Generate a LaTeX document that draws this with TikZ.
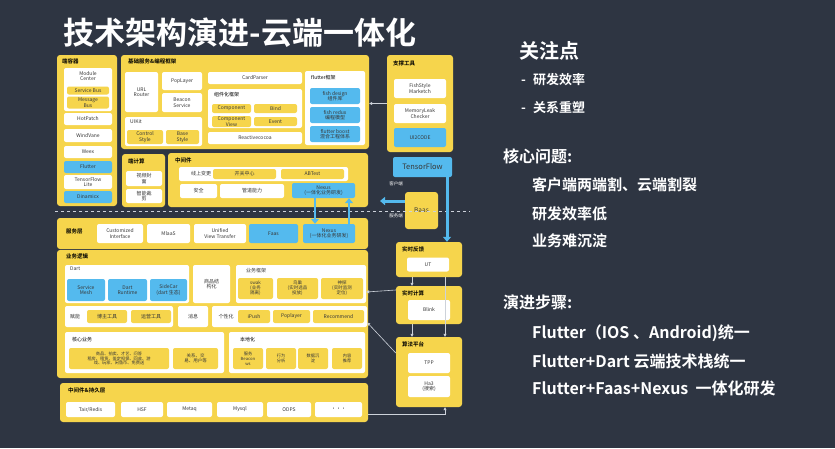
\documentclass[tikz,border=0pt]{standalone}
\usepackage{fontspec}
\setmainfont{Noto Sans CJK SC}[BoldFont={Noto Sans CJK SC Bold}]
\usetikzlibrary{arrows.meta}

\definecolor{bg}{RGB}{46,53,66}
\definecolor{ylw}{RGB}{246,213,76}
\definecolor{blu}{RGB}{84,186,238}
\definecolor{txt}{RGB}{55,55,55}
\definecolor{lnkc}{RGB}{205,210,218}

\begin{document}
\begin{tikzpicture}[x=1pt, y=-1pt,
    panel/.style={fill=ylw, rounded corners=3pt, inner sep=0pt},
    wbox/.style={fill=white, rounded corners=2pt, inner sep=0pt, align=center,
        font=\fontsize{5}{5.6}\selectfont, text=txt},
    ybox/.style={wbox, fill=ylw},
    bbox/.style={wbox, fill=blu},
    hdr/.style={anchor=north west, inner sep=0pt, font=\fontsize{5.5}{6}\selectfont\bfseries, text=black},
    lbl/.style={inner sep=0pt, font=\fontsize{5}{6}\selectfont, text=txt},
    sz/.style 2 args={minimum width=#1pt, minimum height=#2pt},
    fat/.style={blu, line width=3pt, -{Triangle[width=8pt,length=5pt]}},
    lnk/.style={draw=lnkc, line width=0.6pt, -{Triangle[width=3pt,length=3pt]}},
    side/.style={anchor=west, inner sep=0pt, text=white, font=\fontsize{15}{18}\selectfont\bfseries},
]
    % Hintergrund
    \fill[bg] (0,0) rectangle (835,448);
    \useasboundingbox (0,0) rectangle (835,448);

    % Titel
    \node[inner sep=0pt, text=white, font=\fontsize{31}{33}\selectfont\bfseries] (title) at (240,33) {技术架构演进-云端一体化};

    % --- 端容器 ---
    \node[panel, sz={60}{151}] (cont) at (87,130.5) {};
    \node[hdr] (conth) at (62,59) {端容器};
    \node[wbox, sz={48}{43}] (modc) at (88,89.5) {};
    \node[lbl] (modct) at (88,77) {\begin{tabular}{@{}c@{}}Module\\[-1pt]Center\end{tabular}};
    \node[ybox, sz={42}{8}] (sbus) at (88,90.5) {Service Bus};
    \node[ybox, sz={42}{12}] (mbus) at (88,102.5) {Message\\Bus};
    \node[wbox, sz={48}{12}] (hotp) at (88,119) {HotPatch};
    \node[wbox, sz={48}{13}] (windv) at (88,135.5) {WindVane};
    \node[wbox, sz={48}{12}] (weex) at (88,152) {Weex};
    \node[bbox, sz={48}{12}] (flut) at (88,167) {Flutter};
    \node[wbox, sz={48}{14}] (tfl) at (88,182) {TensorFlow\\Lite};
    \node[bbox, sz={48}{12}] (dina) at (88,197) {Dinamicx};

    % --- 基础服务&编程框架 ---
    \node[panel, sz={248}{94}] (base) at (245,102) {};
    \node[hdr] (baseh) at (128,59) {基础服务\&编程框架};
    \node[wbox, sz={33}{40}] (urlr) at (141.5,92) {URL\\Router};
    \node[wbox, sz={40}{18}] (popl) at (182,81) {PopLayer};
    \node[wbox, sz={40}{19}] (beac) at (182,102.5) {Beacon\\Service};
    \node[wbox, sz={77}{29}] (uikit) at (163.5,131.5) {};
    \node[lbl, anchor=north west] (uikitt) at (130,119) {UIKit};
    \node[ybox, sz={36}{14}] (ctrl) at (145,137) {Control\\Style};
    \node[ybox, sz={33}{14}] (bsty) at (182.5,137) {Base\\Style};
    \node[wbox, sz={94}{12}] (cardp) at (255,78) {CardParser};
    \node[wbox, sz={94}{39}] (comp) at (255,108.5) {};
    \node[hdr, font=\fontsize{5}{6}\selectfont] (comph) at (214,92) {组件化框架};
    \node[ybox, sz={39}{9}] (compo) at (231.5,108.5) {Component};
    \node[ybox, sz={43}{9}] (bind) at (275.5,108.5) {Bind};
    \node[ybox, sz={39}{11}] (compv) at (231.5,121.5) {Component\\View};
    \node[ybox, sz={43}{9}] (event) at (275.5,121.5) {Event};
    \node[wbox, sz={94}{12}] (react) at (255,138) {Reactivecocoa};
    \node[wbox, sz={60}{74}] (flfw) at (335,108) {};
    \node[hdr, font=\fontsize{5}{6}\selectfont] (flfwh) at (311,75) {flutter框架};
    \node[bbox, sz={50}{16}] (fdes) at (335,96) {fish design\\组件库};
    \node[bbox, sz={50}{16}] (fred) at (335,115) {fish redux\\编程模型};
    \node[bbox, sz={50}{16}] (fboo) at (335,134) {flutter boost\\混合工程体系};

    % --- 支撑工具 ---
    \node[panel, sz={66}{97}] (tools) at (420,103.5) {};
    \node[hdr] (toolsh) at (393,61) {支撑工具};
    \node[wbox, sz={52}{19}] (fsty) at (420,88.5) {FishStyle\\Marketch};
    \node[wbox, sz={52}{19}] (meml) at (420,113.5) {MemoryLeak\\Checker};
    \node[bbox, sz={52}{19}] (ui2c) at (420,137.5) {UI2CODE};
    \draw[lnk] (tools.west) -- (tools.west -| base.east);

    % --- TensorFlow, Baas ---
    \node[bbox, sz={59}{20}, font=\fontsize{7.5}{8}\selectfont] (tf) at (422.5,167) {TensorFlow};
    \node[panel, sz={33}{37}, font=\fontsize{6.5}{7}\selectfont, text=txt] (baas) at (421.5,210.5) {Baas};
    \node[lbl, text=white, font=\fontsize{4.5}{5}\selectfont] (clnt) at (396,184) {客户端};
    \node[lbl, text=white, font=\fontsize{4.5}{5}\selectfont] (srv) at (396,216) {服务端};

    % --- 端计算 ---
    \node[panel, sz={43}{53}] (edge) at (143.5,180.5) {};
    \node[hdr] (edgeh) at (128,159) {端计算};
    \node[wbox, sz={36}{15}] (vcov) at (144,178.5) {视频封\\面};
    \node[wbox, sz={36}{14}] (crop) at (144,196) {智能裁\\剪};

    % --- 中间件 ---
    \node[panel, sz={200}{54}] (mid) at (268,180) {};
    \node[hdr] (midh) at (175,158) {中间件};
    \node[wbox, sz={169}{14}] (online) at (263.5,174) {};
    \node[lbl] (onlinet) at (201,174) {线上变更};
    \node[ybox, sz={63}{10}] (switch) at (244.5,174) {开关中心};
    \node[ybox, sz={63}{10}] (abt) at (312.5,174) {ABTest};
    \node[wbox, sz={37}{14}] (safe) at (198.5,191) {安全};
    \node[wbox, sz={64}{14}] (pipe) at (252,191) {管道能力};
    \node[bbox, sz={63}{15}] (nexa) at (323.5,190.5) {Nexus\\(一体化业务研发)};

    % --- 服务层 ---
    \node[panel, sz={311}{31}] (svc) at (212.5,233.5) {};
    \node[hdr, anchor=west] (svch) at (66,231) {服务层};
    \node[wbox, sz={46}{19}] (cust) at (120,233.5) {Customized\\Interface};
    \node[wbox, sz={43}{19}] (mlaas) at (168.5,233.5) {MlaaS};
    \node[wbox, sz={52}{19}] (uvt) at (220,233.5) {Unified\\View Transfer};
    \node[bbox, sz={49}{19}] (faas) at (273.5,233.5) {Faas};
    \node[bbox, sz={52}{19}] (nexb) at (329,233.5) {Nexus\\(一体化业务研发)};

    % --- 业务逻辑 ---
    \node[panel, sz={311}{128}] (biz) at (212.5,314) {};
    \node[hdr] (bizh) at (66,254) {业务逻辑};
    \node[wbox, sz={124}{38}] (dart) at (127,284) {};
    \node[lbl, anchor=north west] (dartt) at (70,267) {Dart};
    \node[bbox, sz={38}{22}] (smesh) at (86,290) {Service\\Mesh};
    \node[bbox, sz={39}{22}] (drun) at (127.5,290) {Dart\\Runtime};
    \node[bbox, sz={37}{22}] (scar) at (168.5,290) {SideCar\\(dart 生态)};
    \node[wbox, sz={37}{38}] (gstr) at (211.5,284) {商品结\\构化};
    \node[wbox, sz={130}{38}] (bizfw) at (301,284) {};
    \node[lbl] (bizfwt) at (256,271) {业务框架};
    \node[ybox, sz={35}{21}, font=\fontsize{4.5}{5}\selectfont] (swak) at (255.5,288.5) {swak\\(业务\\隔离)};
    \node[ybox, sz={41}{21}, font=\fontsize{4.5}{5}\selectfont] (nest) at (297.5,288.5) {鸟巢\\(实时选品\\投放)};
    \node[ybox, sz={42}{21}, font=\fontsize{4.5}{5}\selectfont] (probe) at (342,288.5) {神探\\(实时监测\\定位)};
    \node[wbox, sz={108}{21}] (enab) at (119,316.5) {};
    \node[lbl] (enabt) at (75,316.5) {赋能};
    \node[ybox, sz={40}{13}] (hostt) at (107,316.5) {博主工具};
    \node[ybox, sz={40}{13}] (opt) at (151,316.5) {运营工具};
    \node[wbox, sz={30}{21}] (msg) at (193,316.5) {消息};
    \node[wbox, sz={155}{21}] (pers) at (289.5,316.5) {};
    \node[lbl] (perst) at (226,316.5) {个性化};
    \node[ybox, sz={32}{13}] (ipush) at (254,316.5) {iPush};
    \node[ybox, sz={37}{13}] (popl2) at (291.5,316.5) {Poplayer};
    \node[ybox, sz={51}{13}] (recom) at (338.5,316.5) {Recommend};
    \node[wbox, sz={159}{41}] (core) at (144.5,352.5) {};
    \node[hdr, font=\fontsize{5}{6}\selectfont] (coreh) at (72,337) {核心业务};
    \node[ybox, sz={100}{21}, font=\fontsize{4.2}{4.8}\selectfont] (goods) at (119,358.5)
        {商品、拍卖、才艺、问答\\租房、租赁、鉴定担保、回收、游\\戏、玩家、闲鱼币、免费送};
    \node[ybox, sz={45}{21}, font=\fontsize{4.5}{5}\selectfont] (rel) at (195.5,358.5) {关系、交\\易、用户等};
    \node[wbox, sz={136}{41}] (local) at (297,352.5) {};
    \node[hdr, font=\fontsize{5}{6}\selectfont] (localh) at (240,337) {本地化};
    \foreach \cx/\nm/\tx in {248/la/{服务\\Beacon\\ws}, 281/lb/{行为\\分析}, 313/lc/{数据沉\\淀}, 347/ld/{内容\\推荐}} {
        \node[ybox, sz={30}{21}, font=\fontsize{4.2}{4.8}\selectfont] (\nm) at (\cx,358.5) {\tx};
    }

    % --- 中间件&持久层 ---
    \node[panel, sz={308}{39}] (store) at (214,402.5) {};
    \node[hdr] (storeh) at (68,388) {中间件\&持久层};
    \foreach \cx/\w/\nm/\tx in {90.5/49/tair/{Tair/Redis}, 142/42/hsf/HSF, 189.5/45/metaq/Metaq,
                               240/46/mysql/Mysql, 289/44/odps/ODPS, 338.5/47/more/{···}} {
        \node[wbox, sz={\w}{15}] (\nm) at (\cx,409.5) {\tx};
    }

    % --- 实时反馈 / 实时计算 / 算法平台 ---
    \node[panel, sz={66}{35}] (rtfb) at (429,259.5) {};
    \node[hdr] (rtfbh) at (402,247) {实时反馈};
    \node[wbox, sz={42}{14}] (ut) at (428,264.5) {UT};
    \node[panel, sz={66}{38}] (rtc) at (429,305) {};
    \node[hdr] (rtch) at (402,291) {实时计算};
    \node[wbox, sz={42}{20}] (blink) at (429,310) {Blink};
    \node[panel, sz={66}{70}] (alg) at (429,372) {};
    \node[hdr] (algh) at (402,342) {算法平台};
    \node[wbox, sz={42}{20}] (tpp) at (429,363) {TPP};
    \node[wbox, sz={42}{21}] (ha3) at (429,386.5) {Ha3\\(搜索)};

    % Trennlinie Client / Server
    \coordinate (dl) at (55,211);
    \coordinate (dr) at (470,211);
    \draw[lnkc, dashed, line width=0.6pt] (dl) -- (dr);

    % dicke blaue Pfeile
    \coordinate (tfx) at (447,0);
    \coordinate (bsx) at (380,201);
    \coordinate (nxl) at (315,0);
    \coordinate (nxr) at (349,0);
    \draw[fat] (tf.south -| tfx) -- (rtfb.north -| tfx);
    \draw[fat] (baas.west |- bsx) -- (bsx);
    \draw[fat, line width=2.5pt] (nexa.south -| nxl) -- (nexb.north -| nxl);
    \draw[fat, line width=2.5pt] (nexb.north -| nxr) -- (nexa.south -| nxr);

    % duenne Verbindungen
    \coordinate (cl) at (412,0);
    \coordinate (cr) at (445,0);
    \draw[lnk] (rtfb.south -| cl) -- (rtc.north -| cl);
    \draw[lnk] (rtc.south -| cl) -- (alg.north -| cl);
    \draw[lnk] (rtfb.south -| cr) -- (alg.north -| cr);
    \draw[lnk] ([yshift=15pt]rtc.west) -- ([yshift=-8pt]bizfw.east);
    \draw[lnk] ([yshift=19pt]alg.west) -- ([yshift=-6pt]pers.east);
    \draw[lnk] ([yshift=-12pt]store.east) -| (alg.south -| cr);

    % --- rechte Seite ---
    \node[side, font=\fontsize{20}{22}\selectfont\bfseries] (focus) at (519,51) {关注点};
    \node[side, font=\fontsize{13}{15}\selectfont\bfseries] (focus1) at (521,80) {-\hspace{7pt}研发效率};
    \node[side, font=\fontsize{13}{15}\selectfont\bfseries] (focus2) at (521,108) {-\hspace{7pt}关系重塑};
    \node[side, font=\fontsize{16}{18}\selectfont\bfseries] (quest) at (503,156) {核心问题:};
    \node[side] (quest1) at (532,185) {客户端两端割、云端割裂};
    \node[side] (quest2) at (532,214) {研发效率低};
    \node[side] (quest3) at (532,241) {业务难沉淀};
    \node[side, font=\fontsize{16}{18}\selectfont\bfseries] (steps) at (503,302) {演进步骤:};
    \node[side, font=\fontsize{16}{18}\selectfont\bfseries] (step1) at (532,333) {Flutter（IOS 、Android)统一};
    \node[side, font=\fontsize{16}{18}\selectfont\bfseries] (step2) at (532,361) {Flutter+Dart\ 云端技术栈统一};
    \node[side, font=\fontsize{16}{18}\selectfont\bfseries] (step3) at (532,388) {Flutter+Faas+Nexus\ \ 一体化研发};
\end{tikzpicture}
\end{document}
